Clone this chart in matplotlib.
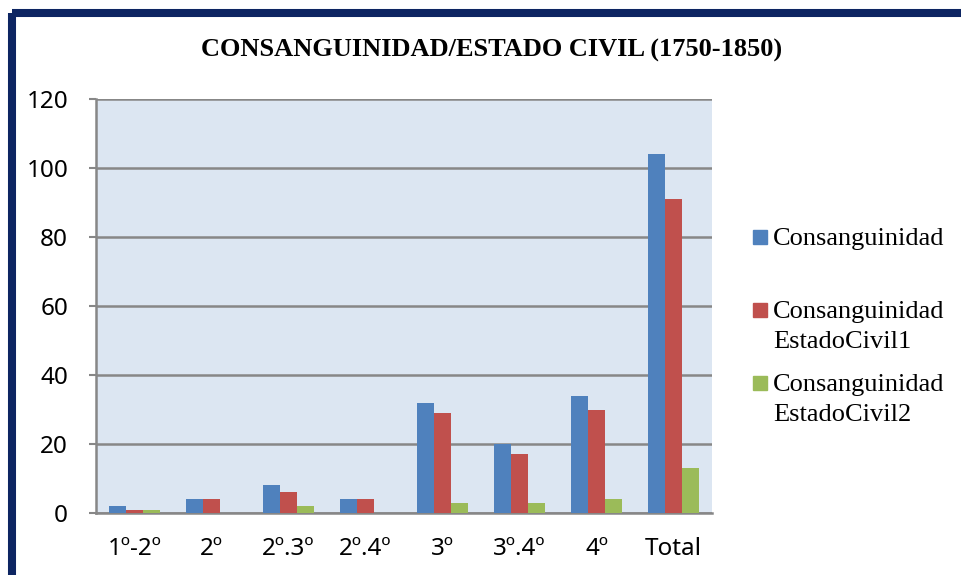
import matplotlib
matplotlib.use("Agg")
import matplotlib.pyplot as plt
import numpy as np
from matplotlib.patches import Rectangle

categories = ["1º-2º", "2º", "2º.3º", "2º.4º", "3º", "3º.4º", "4º", "Total"]
consanguinidad = [2, 4, 8, 4, 32, 20, 34, 104]
estado_civil1 = [1, 4, 6, 4, 29, 17, 30, 91]
estado_civil2 = [1, 0, 2, 0, 3, 3, 4, 13]
series_names = ["Consanguinidad", "Consanguinidad\nEstadoCivil1", "Consanguinidad\nEstadoCivil2"]
colors = ["#4f81bd", "#c0504d", "#9bbb59"]

W, H = 961, 575
fig = plt.figure(figsize=(W / 100, H / 100), dpi=100)
fig.patch.set_facecolor("white")

# navy frame, only top and left edges show
fig.patches.append(Rectangle((12 / W, 1 - 13 / H), 2, -2, transform=fig.transFigure,
                             fill=False, edgecolor="#0d2562", linewidth=5.8,
                             joinstyle="round", zorder=10))

ax = fig.add_axes([96 / W, 1 - 513 / H, 616 / W, 414 / H])
ax.set_facecolor("#dce6f2")

x = np.arange(len(categories))
bw = 0.22
for i, vals in enumerate([consanguinidad, estado_civil1, estado_civil2]):
    ax.bar(x + (i - 1) * bw, vals, width=bw, color=colors[i], zorder=3)

ax.set_xlim(-0.5, len(categories) - 0.5)
ax.set_ylim(0, 120)
ax.set_yticks(range(0, 121, 20))
ax.set_xticks(x)
ax.set_xticklabels(categories)

for lab in ax.get_xticklabels() + ax.get_yticklabels():
    lab.set_fontfamily("Noto Sans")
    lab.set_fontsize(17.5)

ax.grid(axis="y", color="#878787", linewidth=1.8, zorder=1)
ax.tick_params(axis="y", length=5, width=1.5, color="#878787", pad=15)
ax.tick_params(axis="x", length=0, pad=17)
for s in ["top", "right"]:
    ax.spines[s].set_visible(False)
for s in ["left", "bottom"]:
    ax.spines[s].set_color("#878787")
    ax.spines[s].set_linewidth(1.8)

fig.text(492 / W, 1 - 50 / H, "CONSANGUINIDAD/ESTADO CIVIL (1750-1850)",
         ha="center", va="center", family="Liberation Serif", weight="bold", fontsize=19)

# legend
leg_y = [237, 310, 383]
for name, c, y in zip(series_names, colors, leg_y):
    fig.patches.append(Rectangle((753 / W, 1 - (y + 7) / H), 14 / W, 14 / H,
                                 transform=fig.transFigure, color=c))
    fig.text(773 / W, 1 - (y + 8) / H, name.split("\n")[0], ha="left", va="baseline",
             family="Liberation Serif", fontsize=19)
    if "\n" in name:
        fig.text(773 / W, 1 - (y + 38) / H, name.split("\n")[1], ha="left", va="baseline",
                 family="Liberation Serif", fontsize=19)

fig.savefig("out.png", dpi=100)
